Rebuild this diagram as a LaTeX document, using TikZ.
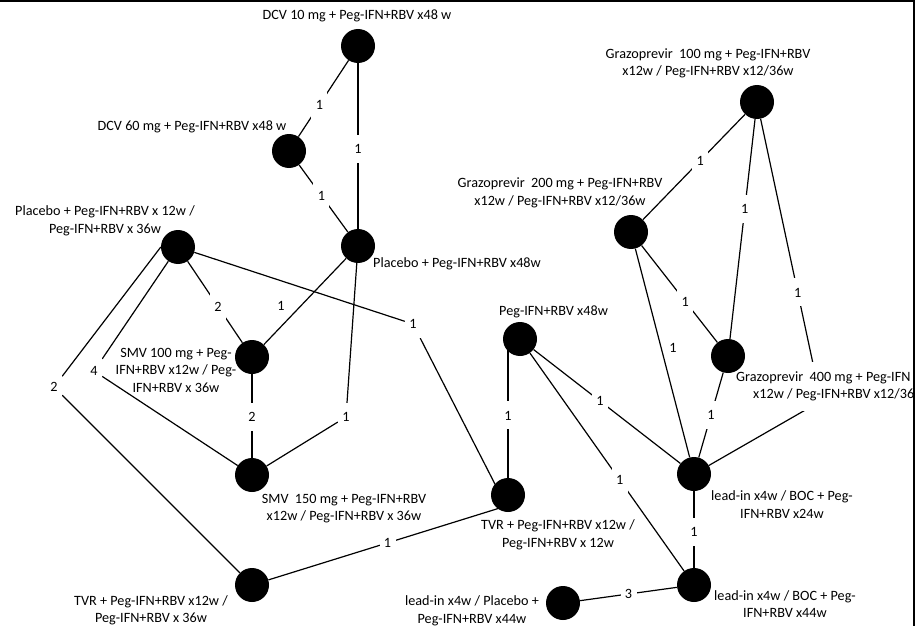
\documentclass[tikz,border=0pt]{standalone}
\usepackage{fontspec}
\setmainfont{Carlito}
\usetikzlibrary{backgrounds,calc}
\newcommand\dfont{\fontsize{14.2}{17.5}\selectfont}
\begin{document}
\begin{tikzpicture}[x=1pt,y=-1pt,
  trt/.style={circle,fill=black,minimum size=34pt,inner sep=0pt},
  lbl/.style={font=\dfont,align=center,inner sep=1pt},
  cnt/.style={font=\dfont,fill=white,minimum width=16pt,minimum height=28pt,inner sep=0pt},
  offcnt/.style={font=\dfont,inner sep=1pt},
  link/.style={line width=1.2pt,line join=round}]
\useasboundingbox (0,0) rectangle (919,626);
% treatment nodes
\node[trt] (DCV10) at (358,46) {};
\node[trt] (DCV60) at (289,151) {};
\node[trt] (Plac48) at (358,246) {};
\node[trt] (PlacSMV) at (178,247) {};
\node[trt] (SMV100) at (252,357) {};
\node[trt] (SMV150) at (252,475) {};
\node[trt] (TVR36) at (252,585) {};
\node[trt] (TVR12) at (508,495) {};
\node[trt] (Peg48) at (520,339) {};
\node[trt] (Grazo100) at (757,102) {};
\node[trt] (Grazo200) at (631,232) {};
\node[trt] (Grazo400) at (728,356) {};
\node[trt] (BOC24) at (694,474) {};
\node[trt] (BOC44) at (694,585) {};
\node[trt] (PlacLead) at (563,603) {};
% helper coordinates
\coordinate (g19) at (821,401);
\coordinate (c11) at ($(TVR12)+(-5,12)$);
\coordinate (c7) at (498,490);
% count labels
\node[cnt] (k1) at ($(DCV10)!0.56!(DCV60)$) {1};
\node[cnt] (k2) at ($(DCV10)!0.515!(Plac48)$) {1};
\node[cnt] (k3) at ($(DCV60)!0.47!(Plac48)$) {1};
\node[cnt] (k4) at ($(PlacSMV)!0.54!(SMV100)$) {2};
\node[offcnt] (k5) at (281,306) {1};
\node[cnt] (k6) at (346,417) {1};
\node[cnt] (k7) at (413,324) {1};
\node[cnt] (k8) at (94,371) {4};
\node[cnt] (k9) at (54,387) {2};
\node[cnt] (k10) at ($(SMV100)!0.51!(SMV150)$) {2};
\node[cnt] (k11) at ($(TVR36)!0.54!(c11)$) {1};
\node[cnt] (k12) at ($(TVR12)!0.51!(TVR12 |- Peg48)$) {1};
\node[cnt] (k13) at ($(Peg48)!0.46!(BOC24)$) {1};
\node[cnt] (k14) at ($(Peg48)!0.573!(BOC44)$) {1};
\node[cnt] (k15) at ($(BOC24)!0.52!(BOC44)$) {1};
\node[cnt] (k16) at ($(PlacLead)!0.5!(BOC44)$) {3};
\node[cnt] (k17) at ($(Grazo100)!0.45!(Grazo200)$) {1};
\node[cnt] (k18) at ($(Grazo100)!0.42!(Grazo400)$) {1};
\node[cnt] (k19) at ($(Grazo100)!0.637!(g19)$) {1};
\node[cnt] (k20) at ($(Grazo200)!0.56!(Grazo400)$) {1};
\node[offcnt] (k21) at (673,348) {1};
\node[cnt] (k22) at ($(Grazo400)!0.5!(BOC24)$) {1};
% treatment labels
\node[lbl] (tDCV10) at (357,16) {DCV 10 mg + Peg-IFN+RBV x48 w};
\node[lbl] (tDCV60) at (192,127) {DCV 60 mg + Peg-IFN+RBV x48 w};
\node[lbl] (tPlacSMV) at (105,221) {Placebo + Peg-IFN+RBV x 12w /\\Peg-IFN+RBV x 36w};
\node[lbl,anchor=west] (tPlac48) at (372,264) {Placebo + Peg-IFN+RBV x48w};
\node[lbl] (tGrazo100) at (708,63.5) {Grazoprevir\ \ 100 mg + Peg-IFN+RBV\\x12w / Peg-IFN+RBV x12/36w};
\node[lbl] (tGrazo200) at (560,193) {Grazoprevir\ \ 200 mg + Peg-IFN+RBV\\x12w / Peg-IFN+RBV x12/36w};
\node[lbl,anchor=west] (tPeg48) at (498,312) {Peg-IFN+RBV x48w};
\node[lbl] (tSMV100) at (176,370) {SMV 100 mg + Peg-\\IFN+RBV x12w / Peg-\\IFN+RBV x 36w};
\node[lbl] (tSMV150) at (344,508.5) {SMV\ \ 150 mg + Peg-IFN+RBV\\x12w / Peg-IFN+RBV x 36w};
\node[lbl] (tTVR36) at (151,610.5) {TVR + Peg-IFN+RBV x12w /\\Peg-IFN+RBV x 36w};
\node[lbl] (tTVR12) at (558,535) {TVR + Peg-IFN+RBV x12w /\\Peg-IFN+RBV x 12w};
\node[lbl] (tBOC24) at (782,504.5) {lead-in x4w / BOC + Peg-\\IFN+RBV x24w};
\node[lbl] (tBOC44) at (785,604) {lead-in x4w / BOC + Peg-\\IFN+RBV x44w};
\node[lbl] (tPlacLead) at (472,611) {lead-in x4w / Placebo +\\Peg-IFN+RBV x44w};
% connectors
\begin{pgfonlayer}{background}
\draw[link] (DCV10) -- (DCV60);
\draw[link] (DCV10) -- (Plac48);
\draw[link] (DCV60) -- (Plac48);
\draw[link] (PlacSMV) -- (SMV100);
\draw[link] (Plac48) -- (SMV100);
\draw[link] (Plac48) -- (k6) -- (SMV150);
\draw[link] (PlacSMV) -- (k7) -- (c7);
\draw[link] (PlacSMV) -- (k8) -- (SMV150);
\draw[link] (PlacSMV.west) -- (k9) -- (TVR36);
\draw[link] (SMV100) -- (SMV150);
\draw[link] (TVR36) -- (c11);
\draw[link] (TVR12) -- (TVR12 |- Peg48);
\draw[link] (Peg48) -- (BOC24);
\draw[link] (Peg48) -- (BOC44);
\draw[link] (BOC24) -- (BOC44);
\draw[link] (PlacLead) -- (BOC44);
\draw[link] (Grazo100) -- (Grazo200);
\draw[link] (Grazo100) -- (Grazo400);
\draw[link] (Grazo100) -- (g19) -- (BOC24);
\draw[link] (Grazo200) -- (Grazo400);
\draw[link] (Grazo200) -- (BOC24);
\draw[link] (Grazo400) -- (BOC24);
\begin{scope}
\clip (0,0) rectangle (913,626);
\node[lbl,fill=white,inner xsep=2pt,inner ysep=10pt,anchor=west,align=left] (tGrazo400) at (734,386.5)
  {Grazoprevir\ \ 400 mg + Peg-IFN\\\hspace*{17pt}x12w / Peg-IFN+RBV x12/36};
\end{scope}
\end{pgfonlayer}
% frame
\draw[line width=2pt] (0,1) -- (914,1) -- (914,626);
\end{tikzpicture}
\end{document}
